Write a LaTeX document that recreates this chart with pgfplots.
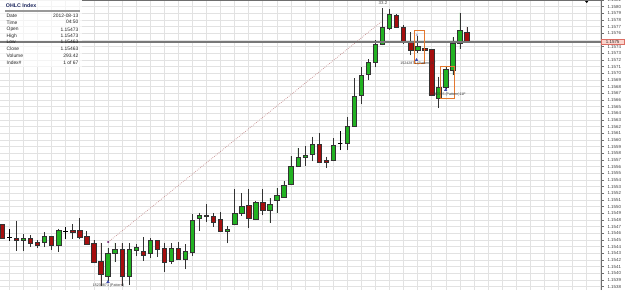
\documentclass[border=0pt]{standalone}
\usepackage{fontspec}
\setmainfont{Liberation Sans}
\usepackage{pgfplots}
\pgfplotsset{compat=1.18}
\usepackage{pgfplotstable}
\usepgfplotslibrary{statistics}

\definecolor{cgreen}{RGB}{34,178,34}
\definecolor{cred}{RGB}{165,14,14}
\definecolor{gridc}{RGB}{226,226,226}
\definecolor{axc}{RGB}{110,110,110}
\definecolor{pricec}{RGB}{120,120,120}
\definecolor{trendc}{RGB}{196,140,140}
\definecolor{boxc}{RGB}{228,120,48}
\definecolor{navy}{RGB}{30,40,95}
\definecolor{markc}{RGB}{60,70,170}
\definecolor{labfill}{RGB}{250,212,204}
\definecolor{labdraw}{RGB}{220,110,100}

% k  low  body-low  body-high  high  colour (g up, r down, d doji)
\pgfplotstableread{
k lo blo bhi hi col
0 1.15452 1.15452 1.15473 1.15473 r
1 1.15449 1.15454 1.15454 1.15466 d
2 1.15434 1.15450 1.15453 1.15479 r
3 1.15433 1.15450 1.15453 1.15459 g
4 1.15440 1.15445 1.15453 1.15457 r
5 1.15438 1.15442 1.15446 1.15450 r
6 1.15439 1.15446 1.15455 1.15462 g
7 1.15435 1.15442 1.15456 1.15456 r
8 1.15432 1.15442 1.15465 1.15467 g
9 1.15452 1.15463 1.15463 1.15469 d
10 1.15452 1.15462 1.15465 1.15474 r
11 1.15452 1.15454 1.15464 1.15483 r
12 1.15444 1.15444 1.15456 1.15463 r
13 1.15417 1.15417 1.15445 1.15450 r
14 1.15381 1.15399 1.15418 1.15446 r
15 1.15388 1.15395 1.15430 1.15438 g
16 1.15417 1.15430 1.15436 1.15446 g
17 1.15381 1.15395 1.15436 1.15445 r
18 1.15382 1.15395 1.15436 1.15445 g
19 1.15426 1.15435 1.15439 1.15444 g
20 1.15419 1.15427 1.15433 1.15454 r
21 1.15423 1.15430 1.15450 1.15453 g
22 1.15425 1.15436 1.15449 1.15450 r
23 1.15402 1.15417 1.15437 1.15446 r
24 1.15414 1.15418 1.15438 1.15445 g
25 1.15420 1.15421 1.15437 1.15447 r
26 1.15406 1.15421 1.15433 1.15444 g
27 1.15426 1.15432 1.15480 1.15489 g
28 1.15464 1.15483 1.15487 1.15491 g
29 1.15477 1.15485 1.15487 1.15504 r
30 1.15470 1.15477 1.15485 1.15490 r
31 1.15463 1.15463 1.15481 1.15492 r
32 1.15445 1.15463 1.15466 1.15471 g
33 1.15472 1.15474 1.15490 1.15526 g
34 1.15486 1.15490 1.15500 1.15520 g
35 1.15468 1.15483 1.15502 1.15526 r
36 1.15480 1.15481 1.15507 1.15508 g
37 1.15487 1.15494 1.15506 1.15526 r
38 1.15476 1.15494 1.15504 1.15513 g
39 1.15490 1.15509 1.15517 1.15528 g
40 1.15514 1.15514 1.15532 1.15538 g
41 1.15532 1.15534 1.15561 1.15576 g
42 1.15559 1.15561 1.15574 1.15588 g
43 1.15561 1.15574 1.15577 1.15591 g
44 1.15568 1.15579 1.15594 1.15605 g
45 1.15565 1.15567 1.15594 1.15610 r
46 1.15558 1.15567 1.15569 1.15575 r
47 1.15568 1.15570 1.15592 1.15603 g
48 1.15585 1.15595 1.15595 1.15613 d
49 1.15585 1.15595 1.15621 1.15635 g
50 1.15620 1.15621 1.15666 1.15693 g
51 1.15654 1.15667 1.15697 1.15710 g
52 1.15690 1.15698 1.15717 1.15721 g
53 1.15709 1.15717 1.15744 1.15750 g
54 1.15742 1.15744 1.15769 1.15798 g
55 1.15765 1.15768 1.15789 1.15796 g
56 1.15768 1.15769 1.15787 1.15789 r
57 1.15745 1.15746 1.15769 1.15772 r
58 1.15727 1.15734 1.15747 1.15762 r
59 1.15730 1.15735 1.15741 1.15756 g
60 1.15725 1.15735 1.15738 1.15745 r
61 1.15667 1.15667 1.15736 1.15736 r
62 1.15648 1.15663 1.15679 1.15695 g
63 1.15676 1.15679 1.15706 1.15710 g
64 1.15697 1.15705 1.15745 1.15754 g
65 1.15736 1.15745 1.15765 1.15791 g
66 1.15746 1.15747 1.15762 1.15770 r
}\candles

\begin{document}
\begin{tikzpicture}
\useasboundingbox (0,0) rectangle (625pt,290pt);
\begin{axis}[
  at={(0,0)}, anchor=south west,
  width=601pt, height=290pt, scale only axis,
  xmin=-0.327, xmax=85.04,
  ymin=1.15375, ymax=1.1581,
  axis y line*=right,
  axis x line*=bottom,
  x axis line style={draw=none},
  y axis line style={draw=axc, line width=0.9pt},
  xtick={1,3,...,85}, xticklabels={}, xtick style={draw=none},
  ytick={1.1538,1.1539,1.1540,1.1541,1.1542,1.1543,1.1544,1.1545,1.1546,1.1547,1.1548,1.1549,
         1.1550,1.1551,1.1552,1.1553,1.1554,1.1555,1.1556,1.1557,1.1558,1.1559,
         1.1560,1.1561,1.1562,1.1563,1.1564,1.1565,1.1566,1.1567,1.1568,1.1569,
         1.1570,1.1571,1.1572,1.1573,1.1574,1.1576,1.1577,1.1578,1.1579,1.1580,1.1581},
  extra y ticks={1.1575}, extra y tick labels={},
  scaled y ticks=false,
  yticklabel pos=right,
  tick align=outside, major tick length=3pt,
  ytick style={draw=axc, line width=0.5pt},
  yticklabel style={font=\fontsize{4.4}{5}\selectfont, text=black!75,
    /pgf/number format/.cd, fixed, fixed zerofill, precision=4, assume math mode=true},
  grid=major, grid style={draw=gridc, line width=0.6pt},
  clip=false,
  boxplot/draw direction=y,
  boxplot/box extend=0.62,
  boxplot/whisker extend=0,
  candleg/.style={draw=black!80, fill=cgreen, line width=0.6pt},
  candler/.style={draw=black!80, fill=cred, line width=0.6pt},
  candled/.style={draw=black, fill=black, line width=0.8pt},
]
% info box background (semi-transparent)
\fill[white, fill opacity=0.65] (rel axis cs:0.0,1.0) rectangle (rel axis cs:0.137,0.769);

% trend line
\addplot[trendc, line width=0.7pt, dash pattern=on 0.7pt off 1.3pt] coordinates {(15.05,1.15447) (54.03,1.15779)};

% candles (values taken from the table \candles)
\pgfplotsinvokeforeach{0,...,66}{
  \pgfplotstablegetelem{#1}{lo}\of\candles \let\cLo\pgfplotsretval
  \pgfplotstablegetelem{#1}{blo}\of\candles \let\cBlo\pgfplotsretval
  \pgfplotstablegetelem{#1}{bhi}\of\candles \let\cBhi\pgfplotsretval
  \pgfplotstablegetelem{#1}{hi}\of\candles \let\cHi\pgfplotsretval
  \pgfplotstablegetelem{#1}{col}\of\candles \let\cCol\pgfplotsretval
  \edef\candleplot{\noexpand\addplot[candle\cCol,
    boxplot prepared={draw position=#1,
      lower whisker=\cLo, lower quartile=\cBlo, median=\cBlo,
      upper quartile=\cBhi, upper whisker=\cHi}] coordinates {};}
  \candleplot
}

% current price line
\addplot[pricec, line width=1.2pt] coordinates {(-0.327,1.15747) (85.04,1.15747)};
\node[anchor=west, fill=labfill, draw=labdraw, line width=0.4pt, inner sep=0.6pt,
  minimum width=23pt, minimum height=5.2pt, font=\fontsize{4.4}{5}\selectfont, text=black!80]
  at (axis cs:85.04,1.15747) {1.1575};

% pattern markers
\addplot[only marks, mark=triangle*, mark size=1.5pt, color=markc]
  coordinates {(15.01,1.15387) (58.84,1.15720) (62.98,1.15675)};
\addplot[only marks, mark=*, mark size=0.8pt, color=markc!70!red]
  coordinates {(15.05,1.15447)};
\addplot[only marks, mark=*, mark size=1.2pt, color=black]
  coordinates {(83.01,1.15808)};
\end{axis}

% top frame line
\draw[axc, line width=0.8pt] (82pt,289.6pt) -- (601pt,289.6pt);

% orange pattern boxes
\draw[boxc, line width=0.9pt] (414.3pt,259.3pt) rectangle (424.3pt,226.7pt);
\draw[boxc, line width=0.9pt] (440pt,224pt) rectangle (454pt,191.7pt);

% labels
\node[font=\fontsize{3.6}{4}\selectfont, text=black!80] at (108.5pt,4pt) {15230871 (Pattern)};
\node[font=\fontsize{3.6}{4}\selectfont, text=black!80] at (418pt,226.5pt) {15242871 (Pattern)17};
\node[font=\fontsize{3.6}{4}\selectfont, text=black!80] at (447pt,195pt) {15242915 (Pattern)11F};
\node[font=\fontsize{3.4}{4}\selectfont, text=markc] at (416.8pt,255pt) {4};
\node[font=\fontsize{4.4}{5}\selectfont, text=black!70] at (383pt,287.3pt) {33.2};

% info box
\node[anchor=west, font=\fontsize{5.3}{6}\selectfont\bfseries, text=navy, inner sep=0pt] at (5.7pt,284.7pt) {OHLC Index};
\draw[black!40, line width=1.1pt] (5pt,279pt) -- (80pt,279pt);
\begin{scope}[every node/.style={font=\fontsize{4.9}{6}\selectfont, text=black!85, inner sep=0pt}]
\node[anchor=west] at (6.5pt,274.3pt) {Date};    \node[anchor=east] at (78.5pt,274.3pt) {2012-08-13};
\node[anchor=west] at (6.5pt,267.7pt) {Time};    \node[anchor=east] at (78.5pt,267.7pt) {04:50};
\node[anchor=west] at (6.5pt,260.3pt) {Open};    \node[anchor=east] at (78.5pt,260.3pt) {1.15473};
\node[anchor=west] at (6.5pt,254pt) {High};      \node[anchor=east] at (78.5pt,254pt) {1.15473};
\node[anchor=west] at (6.5pt,247.7pt) {Low};     \node[anchor=east] at (78.5pt,247.7pt) {1.15463};
\node[anchor=west] at (6.5pt,241pt) {Close};     \node[anchor=east] at (78.5pt,241pt) {1.15463};
\node[anchor=west] at (6.5pt,234pt) {Volume};    \node[anchor=east] at (78.5pt,234pt) {293.42};
\node[anchor=west] at (6.5pt,227.3pt) {Index\#}; \node[anchor=east] at (78.5pt,227.3pt) {1 of 67};
\end{scope}
\end{tikzpicture}
\end{document}
